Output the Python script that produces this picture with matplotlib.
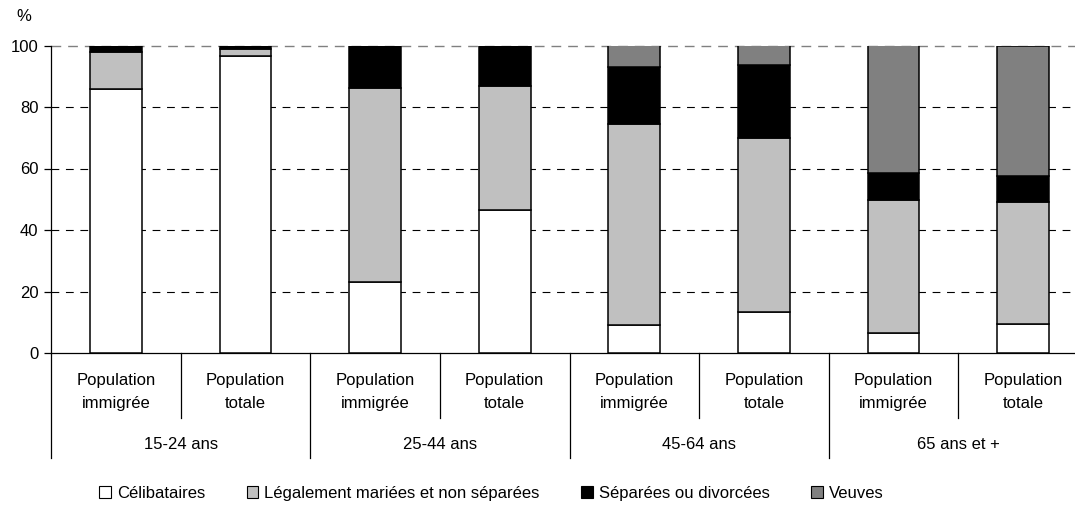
import matplotlib
matplotlib.use('Agg')
import matplotlib.pyplot as plt
from matplotlib.patches import Patch
import numpy as np

plt.rcParams.update({
    'font.family': ['Liberation Sans', 'DejaVu Sans'],
    'font.size': 12,
})

# ── données ──────────────────────────────────────────────
groups = ['15-24 ans', '25-44 ans', '45-64 ans', '65 ans et +']
subcats = [('Population', 'immigrée'), ('Population', 'totale')]

celib   = [86.0, 96.5, 23.0, 46.5, 9.0, 13.2, 6.4, 9.5]
maries  = [12.0, 2.5, 63.2, 40.2, 65.4, 56.8, 43.3, 39.6]
separ   = [2.0, 1.0, 13.8, 13.3, 18.7, 23.7, 8.9, 8.5]
veuves  = [0.0, 0.0, 0.0, 0.0, 6.9, 6.3, 41.4, 42.4]

series = [
    ('Célibataires', celib, '#FFFFFF'),
    ('Légalement mariées et non séparées', maries, '#C0C0C0'),
    ('Séparées ou divorcées', separ, '#000000'),
    ('Veuves', veuves, '#808080'),
]

fig = plt.figure(figsize=(10.75, 5.18), dpi=100)
ax = fig.add_axes([51 / 1075, 1 - 353 / 518, 1037 / 1075, 307.5 / 518])

x = np.arange(len(celib))
bottom = np.zeros(len(celib))
for name, vals, col in series:
    vals = np.array(vals)
    ax.bar(x, vals, 0.4, bottom=bottom, color=col, edgecolor='black',
           linewidth=1.1, zorder=3)
    bottom += vals

ax.set_xlim(-0.5, len(celib) - 0.5)
ax.set_ylim(0, 100)
ax.set_yticks([0, 20, 40, 60, 80, 100])
for y in [20, 40, 60, 80]:
    ax.axhline(y, color='black', linewidth=0.8, linestyle=(0, (7, 6)), zorder=1)
ax.axhline(100, color='#808080', linewidth=1.0, linestyle=(0, (7, 5)), zorder=1,
           clip_on=False)

for s in ['top', 'right']:
    ax.spines[s].set_visible(False)
ax.spines['left'].set_linewidth(0.9)
ax.spines['bottom'].set_linewidth(0.9)
ax.set_xticks([])
ax.tick_params(axis='y', length=5, width=0.9, labelsize=12, pad=4)
ax.text(-0.026, 1.095, '%', transform=ax.transAxes, ha='center', va='center',
        fontsize=12)

# ── étiquettes de l'axe x sur deux niveaux ──────────────────
tr = ax.get_xaxis_transform()
for i in range(len(celib)):
    l1, l2 = subcats[i % 2]
    ax.text(i, -0.088, l1, transform=tr, ha='center', va='center', fontsize=12)
    ax.text(i, -0.163, l2, transform=tr, ha='center', va='center', fontsize=12)
for b in range(len(celib) + 1):
    xb = b - 0.5
    low = -0.341 if b % 2 == 0 else -0.211
    ax.plot([xb, xb], [0, low], transform=tr, color='black', linewidth=0.9,
            clip_on=False)
for g, name in enumerate(groups):
    ax.text(2 * g + 0.5, -0.299, name, transform=tr, ha='center', va='center',
            fontsize=12)

handles = [Patch(facecolor=c, edgecolor='black', linewidth=0.8, label=n)
           for n, _, c in series]
fig.legend(handles=handles, loc='center', bbox_to_anchor=(0.457, 0.048),
           ncol=4, frameon=False, fontsize=12, handlelength=0.7,
           handleheight=0.7, handletextpad=0.35, columnspacing=2.5)

fig.savefig('out.png', dpi=100, facecolor='white')
